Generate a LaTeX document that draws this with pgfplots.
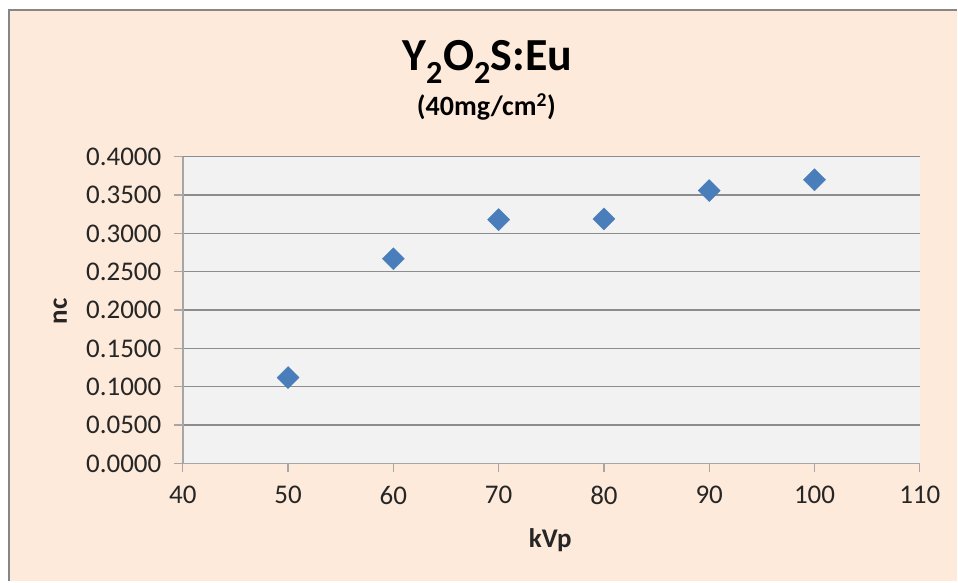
\documentclass[border=0pt]{standalone}
\usepackage{pgfplots}
\pgfplotsset{compat=1.18}
\usepackage{fontspec}
\setmainfont{Carlito}

\definecolor{chartbg}{HTML}{FDEADA}
\definecolor{plotbg}{HTML}{F2F2F2}
\definecolor{framegray}{HTML}{868686}
\definecolor{gridgray}{HTML}{8C8C8C}
\definecolor{axisgray}{HTML}{A6A6A6}
\definecolor{markblue}{HTML}{4A7EBB}
\definecolor{textgray}{HTML}{262626}

\begin{document}
\begin{tikzpicture}[x=1pt,y=1pt]
  % page and chart area
  \fill[white] (0,0) rectangle (958,582);
  \fill[chartbg] (9,0) rectangle (958,572);
  \draw[framegray, line width=2.5pt] (9.25,0) -- (9.25,571.75) -- (958,571.75);

  \begin{axis}[
    at={(183pt,118pt)}, anchor=south west,
    scale only axis, width=738pt, height=307pt,
    xmin=40, xmax=110, ymin=0, ymax=0.4,
    xtick={40,50,...,110},
    ytick={0,0.05,...,0.4},
    axis background/.style={fill=plotbg},
    axis x line*=bottom, axis y line*=left,
    axis line style={axisgray, line width=1.5pt},
    x axis line style={-}, y axis line style={-},
    ymajorgrids,
    major grid style={gridgray, line width=1.3pt},
    tick style={axisgray, line width=1.3pt},
    major tick length=9pt,
    tick align=outside,
    /pgf/number format/assume math mode=true,
    yticklabel style={/pgf/number format/fixed,
                      /pgf/number format/fixed zerofill,
                      /pgf/number format/precision=4,
                      xshift=-9pt},
    xticklabel style={/pgf/number format/fixed, yshift=-10pt},
    ticklabel style={font=\fontsize{27}{32}\selectfont, text=textgray},
    scaled y ticks=false,
    clip=false,
  ]
    \addplot[only marks, mark=square*, mark size=7.8pt,
             mark options={rotate=45, fill=markblue, draw=markblue}]
      coordinates {
        (50,0.112) (60,0.267) (70,0.318) (80,0.319) (90,0.356) (100,0.370)
      };
  \end{axis}

  % titles and axis labels
  \node[anchor=base, inner sep=0] at (488,511)
    {\fontsize{46}{52}\selectfont\bfseries Y\textsubscript{2}O\textsubscript{2}S:Eu};
  \node[anchor=base, inner sep=0] at (487,466)
    {\fontsize{28}{32}\selectfont\bfseries (40mg/cm\textsuperscript{2})};
  \node[anchor=base, inner sep=0, text=textgray] at (551,34)
    {\fontsize{27}{32}\selectfont\bfseries kVp};
  \node[anchor=base, inner sep=0, rotate=90, text=textgray] at (67,270)
    {\fontsize{27}{32}\selectfont\bfseries nc};
\end{tikzpicture}
\end{document}
